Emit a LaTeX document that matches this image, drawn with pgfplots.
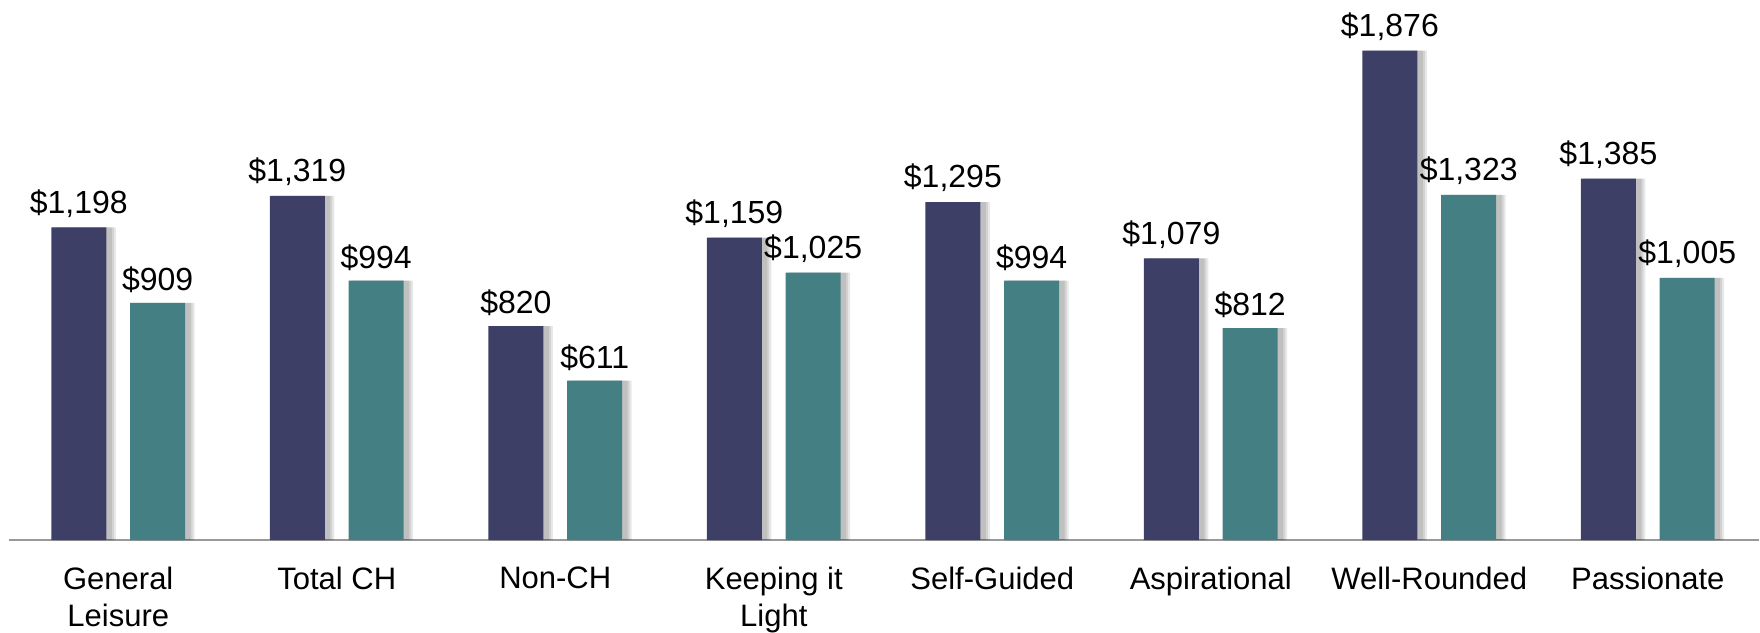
\documentclass[border=0pt]{standalone}
\usepackage{fontspec}
\setmainfont{Liberation Sans}
\usepackage{pgfplots}
\pgfplotsset{compat=1.18}
\definecolor{navy}{HTML}{3E3F66}
\definecolor{tealb}{HTML}{447F84}
\pgfplotstableread{
x a b
0 1198 909
1 1319 994
2 820 611
3 1159 1025
4 1295 994
5 1079 812
6 1876 1323
7 1385 1005
}\data
\pgfplotsset{
 lbl/.style={nodes near coords={\$\pgfmathprintnumber[fixed,precision=0,1000 sep={,},assume math mode=true]{\pgfplotspointmeta}},
 every node near coord/.append style={font=\fontsize{16}{19}\selectfont, yshift=1.5pt, text=black}},
 shd/.style={fill=black, fill opacity=0.09, draw=none, bar width=#1},
}
\begin{document}
\begin{tikzpicture}
\begin{axis}[
 at={(0,0)}, anchor=south west,
 scale only axis, width=875.1pt, height=260.9pt,
 xmin=-0.5, xmax=7.51, ymin=0, ymax=2000,
 axis x line=bottom, axis y line=none,
 axis line style={-, draw=black!40, line width=1pt},
 xtick={0,...,7},
 xticklabels={{General\\Leisure},{Total CH},{Non-CH},{Keeping it\\Light},{Self-Guided},{Aspirational},{Well-Rounded},{Passionate}},
 major tick length=0pt,
 xticklabel style={align=center, font=\fontsize{15.5}{18.5}\selectfont, yshift=-10pt},
 ybar, bar width=27.5pt,
 clip=false,
]
\addplot[shd=28pt, bar shift=-17.2pt] table[y=a] {\data};
\addplot[shd=30pt, bar shift=-17.2pt] table[y=a] {\data};
\addplot[shd=32pt, bar shift=-17.2pt] table[y=a] {\data};
\addplot[shd=28pt, bar shift=22.2pt] table[y=b] {\data};
\addplot[shd=30pt, bar shift=22.2pt] table[y=b] {\data};
\addplot[shd=32pt, bar shift=22.2pt] table[y=b] {\data};
\addplot[fill=navy, draw=none, bar shift=-19.7pt, lbl] table[y=a] {\data};
\addplot[fill=tealb, draw=none, bar shift=19.7pt, lbl] table[y=b] {\data};
\end{axis}
\pgfresetboundingbox
\path (-4.5pt,-46pt) rectangle (875.5pt,270pt);
\end{tikzpicture}
\end{document}
